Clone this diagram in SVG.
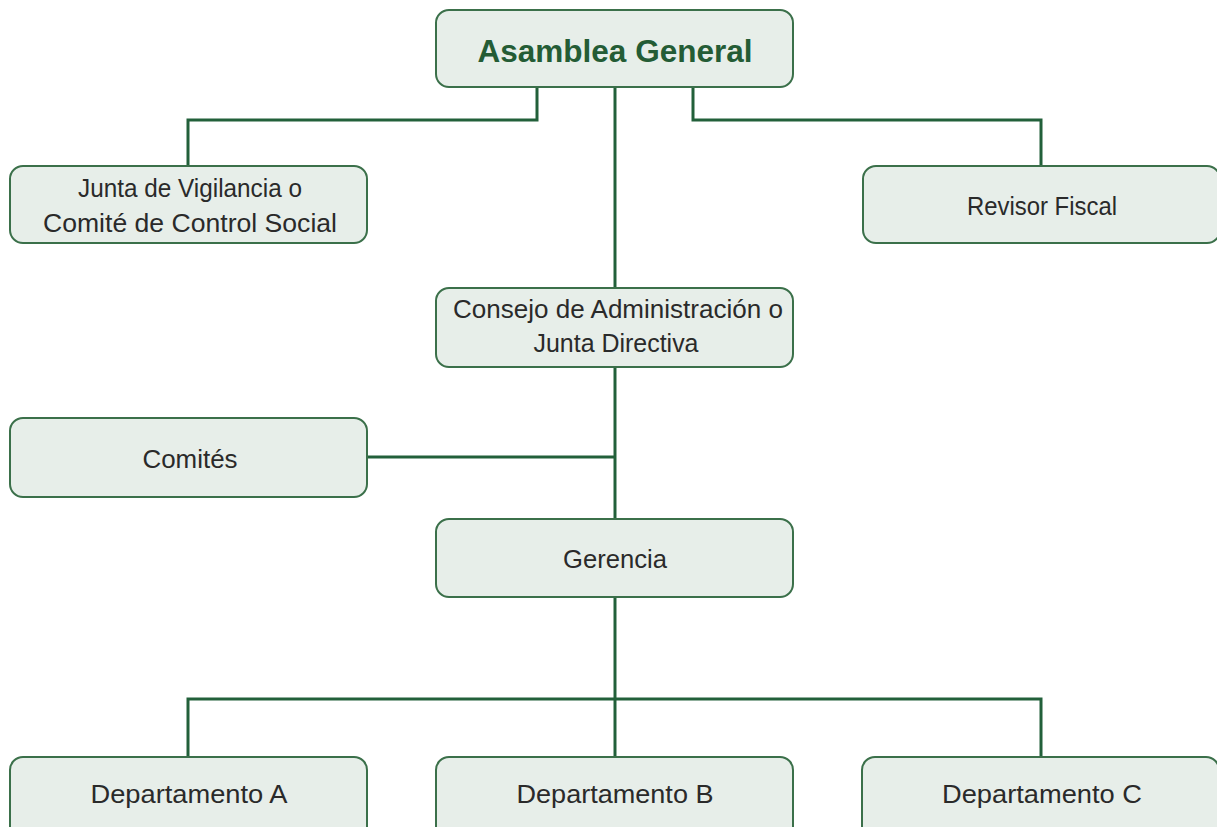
<svg xmlns="http://www.w3.org/2000/svg" width="1217" height="827" viewBox="0 0 1217 827">
<style>
.box{fill:#e7eee9;stroke:#3b704a;stroke-width:2}
.t{font-family:"Liberation Sans",Arial,sans-serif;font-size:26px;fill:#2a2a2a;text-anchor:middle}
.title{font-family:"Liberation Sans",Arial,sans-serif;font-size:31px;font-weight:bold;fill:#245c35;text-anchor:middle}
.c{fill:none;stroke:#22603a;stroke-width:3}
</style>
<rect width="1217" height="827" fill="#ffffff"/>
<g id="connectors">
<polyline class="c" points="537,87 537,120 188,120 188,166"/>
<polyline class="c" points="693,87 693,120 1041,120 1041,166"/>
<line class="c" x1="615" y1="87" x2="615" y2="288"/>
<line class="c" x1="615" y1="367" x2="615" y2="519"/>
<line class="c" x1="367" y1="457" x2="615" y2="457"/>
<line class="c" x1="615" y1="597" x2="615" y2="757"/>
<polyline class="c" points="188,757 188,699 1041,699 1041,757"/>
</g>
<g id="asamblea">
<rect class="box" x="436" y="10" width="357" height="77" rx="13"/>
<text class="title" x="615" y="62" textLength="275" lengthAdjust="spacingAndGlyphs">Asamblea General</text>
</g>
<g id="junta-vigilancia">
<rect class="box" x="10" y="166" width="357" height="77" rx="13"/>
<text class="t" x="190" y="197" textLength="224" lengthAdjust="spacingAndGlyphs">Junta de Vigilancia o</text>
<text class="t" x="190" y="232" textLength="294" lengthAdjust="spacingAndGlyphs">Comité de Control Social</text>
</g>
<g id="revisor">
<rect class="box" x="863" y="166" width="357" height="77" rx="13"/>
<text class="t" x="1042" y="215" textLength="150" lengthAdjust="spacingAndGlyphs">Revisor Fiscal</text>
</g>
<g id="consejo">
<rect class="box" x="436" y="288" width="357" height="79" rx="13"/>
<text class="t" x="618" y="318" textLength="330" lengthAdjust="spacingAndGlyphs">Consejo de Administración o</text>
<text class="t" x="616" y="352" textLength="165" lengthAdjust="spacingAndGlyphs">Junta Directiva</text>
</g>
<g id="comites">
<rect class="box" x="10" y="418" width="357" height="79" rx="13"/>
<text class="t" x="190" y="468" textLength="95" lengthAdjust="spacingAndGlyphs">Comités</text>
</g>
<g id="gerencia">
<rect class="box" x="436" y="519" width="357" height="78" rx="13"/>
<text class="t" x="615" y="568" textLength="104" lengthAdjust="spacingAndGlyphs">Gerencia</text>
</g>
<g id="depto-a">
<rect class="box" x="10" y="757" width="357" height="90" rx="13"/>
<text class="t" x="189" y="803" textLength="197" lengthAdjust="spacingAndGlyphs">Departamento A</text>
</g>
<g id="depto-b">
<rect class="box" x="436" y="757" width="357" height="90" rx="13"/>
<text class="t" x="615" y="803" textLength="197" lengthAdjust="spacingAndGlyphs">Departamento B</text>
</g>
<g id="depto-c">
<rect class="box" x="862" y="757" width="357" height="90" rx="13"/>
<text class="t" x="1042" y="803" textLength="200" lengthAdjust="spacingAndGlyphs">Departamento C</text>
</g>
</svg>
